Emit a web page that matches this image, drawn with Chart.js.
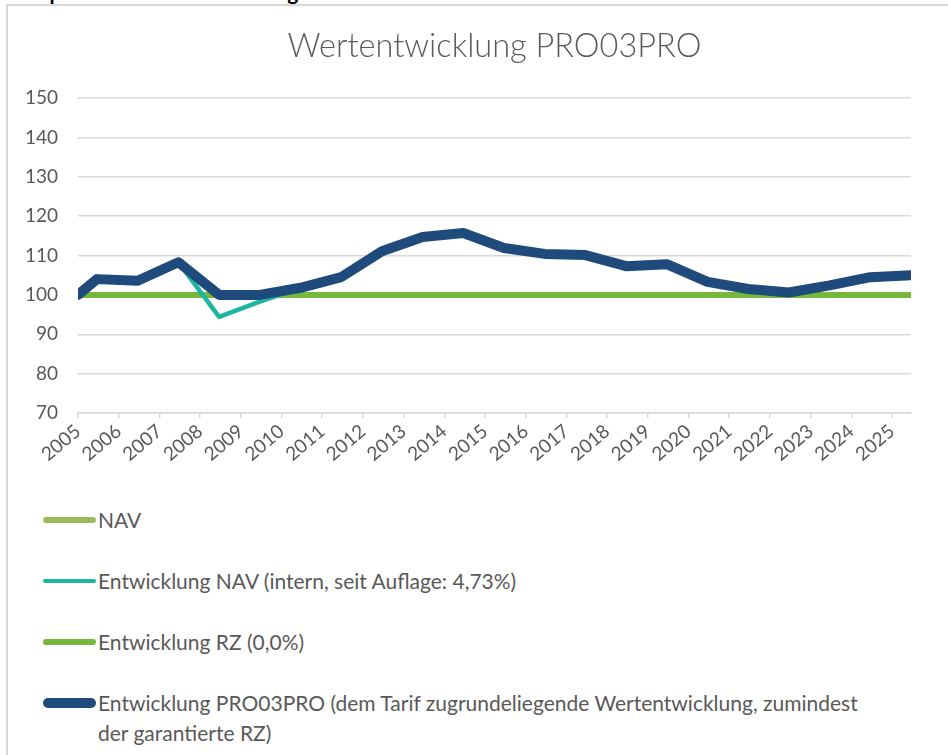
<!DOCTYPE html>
<html lang="de">
<head>
<meta charset="utf-8">
<title>Wertentwicklung PRO03PRO</title>
<script src="https://cdn.jsdelivr.net/npm/chart.js@4"></script>
<style>
  html, body { margin: 0; padding: 0; background: #fff; overflow: hidden; }
  body { width: 948px; height: 755px; position: relative; font-family: Lato, 'Open Sans', sans-serif; }
  #heading { position: absolute; left: 10px; top: -19px; font-weight: bold; font-size: 21px; line-height: 21px; color: #000; white-space: nowrap; }
  #frame { position: absolute; left: 6px; top: 4px; width: 1000px; height: 800px; border: 2px solid #d9d9d9; }
  #chartBox { position: absolute; left: 0; top: 0; }
  #legend { position: absolute; left: 43px; top: 505px; color: #595959; font-size: 21px; line-height: 30px; }
  .item { display: flex; align-items: flex-start; margin-bottom: 31px; }
  .swatch { flex: none; width: 53px; }
  .label { margin-left: 2px; width: 775px; }
</style>
</head>
<body>
<div id="heading">Beispielhafte Wertentwicklung</div>
<div id="frame"></div>
<canvas id="chartBox" width="948" height="470"></canvas>
<div id="legend"></div>
<script>
// Stichtage: erster Wert zur Auflage, danach jeweils Jahresmitte
var dates = [
    '2005-01-01', '2005-06-20', '2006-06-20', '2007-06-20', '2008-06-20', '2009-06-20',
    '2010-06-20', '2011-06-20', '2012-06-20', '2013-06-20', '2014-06-20', '2015-06-20',
    '2016-06-20', '2017-06-20', '2018-06-20', '2019-06-20', '2020-06-20', '2021-06-20',
    '2022-06-20', '2023-06-20', '2024-06-20', '2025-06-20'
];

// Jahresbeschriftung der x-Achse
var yearTicks = [2005, 2006, 2007, 2008, 2009, 2010, 2011, 2012, 2013, 2014, 2015,
                 2016, 2017, 2018, 2019, 2020, 2021, 2022, 2023, 2024, 2025];

// NAV: im Bild keine sichtbare Linie, nur Legendeneintrag
var navValues = [];

var navInternValues = [100, 104.0, 103.6, 108.3, 94.4, 98.3, 101.8, 104.5, 111.1, 114.7, 115.7,
                       111.9, 110.4, 110.1, 107.3, 107.8, 103.3, 101.5, 100.6, 102.4, 104.5, 105.0];

var rzValues = [100, 100, 100, 100, 100, 100, 100, 100, 100, 100, 100,
                100, 100, 100, 100, 100, 100, 100, 100, 100, 100, 100];

var proValues = [100, 104.0, 103.6, 108.3, 100, 100, 101.8, 104.5, 111.1, 114.7, 115.7,
                 111.9, 110.4, 110.1, 107.3, 107.8, 103.3, 101.5, 100.6, 102.4, 104.5, 105.0];

// Datum -> Dezimaljahr für die lineare x-Achse
function toYear(s) {
    var d = new Date(s + 'T00:00:00Z');
    var y = d.getUTCFullYear();
    var start = Date.UTC(y, 0, 1), end = Date.UTC(y + 1, 0, 1);
    return y + (d.getTime() - start) / (end - start);
}

function points(values) {
    return values.map((v, i) => ({ x: toYear(dates[i]), y: v }));
}

Chart.defaults.font.family = 'Lato, "Open Sans", sans-serif';

var ctx = document.getElementById('chartBox').getContext('2d');
var chart = new Chart(ctx, {
    type: 'line',
    data: {
        datasets: [
            { label: 'NAV', data: points(navValues), borderColor: '#9bbb59', borderWidth: 6, order: 4 },
            { label: 'Entwicklung NAV (intern, seit Auflage: 4,73%)', data: points(navInternValues),
              borderColor: '#1fb5a3', borderWidth: 4.5, order: 2 },
            { label: 'Entwicklung RZ (0,0%)', data: points(rzValues), borderColor: '#76b83c', borderWidth: 6, order: 3 },
            { label: 'Entwicklung PRO03PRO (dem Tarif zugrundeliegende Wertentwicklung, zumindest der garantierte RZ)',
              data: points(proValues), borderColor: '#1f4a7c', borderWidth: 10, order: 1 }
        ]
    },
    options: {
        responsive: false,
        animation: false,
        layout: { padding: { left: 0, right: 37, top: 0, bottom: 7 } },
        elements: {
            point: { radius: 0 },
            line: { tension: 0, borderCapStyle: 'round', borderJoinStyle: 'round' }
        },
        plugins: {
            legend: { display: false },
            tooltip: { enabled: false },
            title: {
                display: true,
                fullSize: false,   // über der Zeichenfläche zentriert
                text: 'Wertentwicklung PRO03PRO',
                color: '#595959',
                font: { size: 32.5, weight: '300' },
                padding: { top: 27, bottom: 32 }
            }
        },
        scales: {
            x: {
                type: 'linear',
                min: toYear(dates[0]),
                max: toYear(dates[dates.length - 1]),
                afterBuildTicks: function(scale) {
                    scale.ticks = yearTicks.map(v => ({ value: v }));
                },
                afterFit: function(scale) { scale.height = 50; },
                grid: { drawOnChartArea: false, drawTicks: true, tickLength: 5, color: '#d9d9d9', lineWidth: 1.5 },
                border: { color: '#d9d9d9', width: 1.5 },
                ticks: {
                    color: '#595959', font: { size: 19 },
                    minRotation: 40, maxRotation: 40, padding: 2, autoSkip: false,
                    callback: function(value) { return String(value); }
                }
            },
            y: {
                min: 70,
                max: 150,
                afterFit: function(scale) { scale.width = 78; },
                grid: { color: '#d9d9d9', lineWidth: 1.5, drawTicks: false },
                border: { display: false },
                ticks: { stepSize: 10, color: '#595959', font: { size: 19 }, padding: 20 }
            }
        }
    }
});

// Legende untereinander, wie im Original
var legendEl = document.getElementById('legend');
chart.data.datasets.forEach(function(ds) {
    var item = document.createElement('div');
    item.className = 'item';
    var sw = document.createElement('div');
    sw.className = 'swatch';
    var h = ds.borderWidth;
    sw.style.height = h + 'px';
    sw.style.marginTop = ((30 - h) / 2) + 'px';
    sw.style.borderRadius = (h / 2) + 'px';
    sw.style.background = ds.borderColor;
    var txt = document.createElement('div');
    txt.className = 'label';
    txt.textContent = ds.label;
    item.appendChild(sw);
    item.appendChild(txt);
    legendEl.appendChild(item);
});
</script>
</body>
</html>
